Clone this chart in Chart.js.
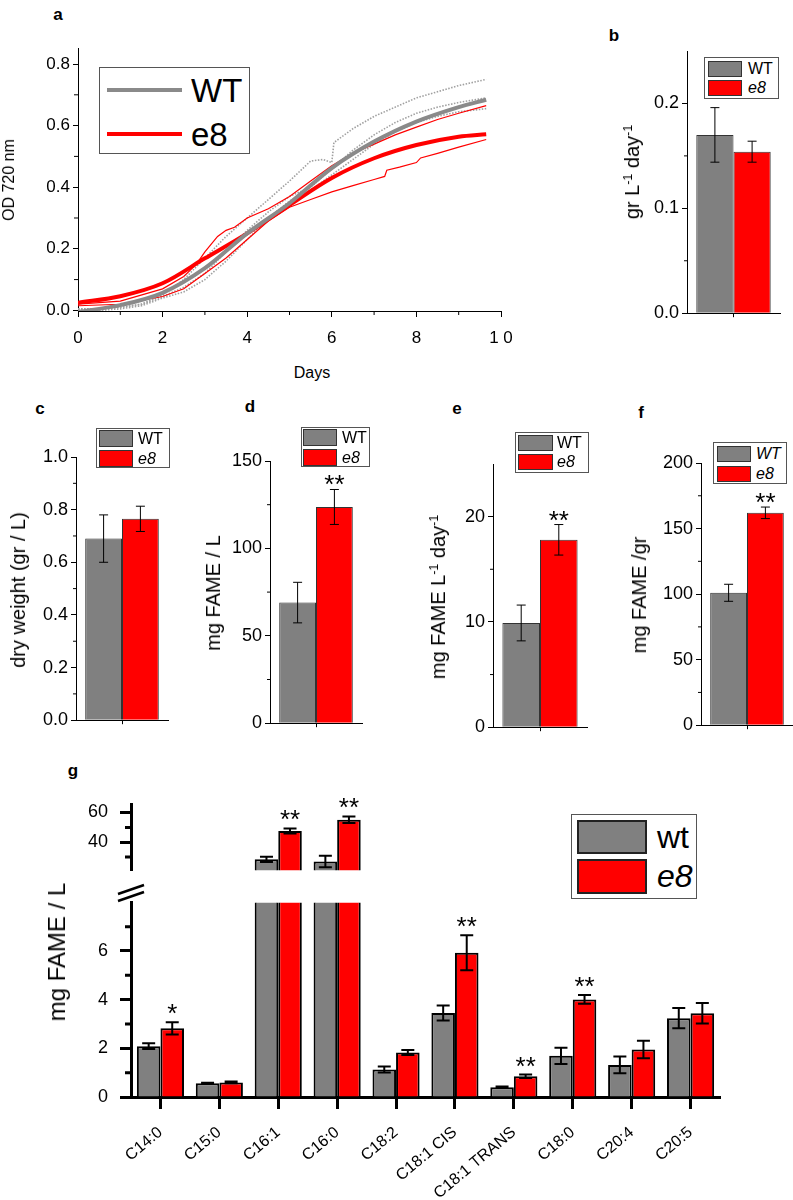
<!DOCTYPE html>
<html>
<head>
<meta charset="utf-8">
<script src="https://cdn.jsdelivr.net/npm/chart.js@4.4.1/dist/chart.umd.min.js"></script>
<style>
body { margin: 0; background: #fff; overflow: hidden; }
#page { position: relative; width: 793px; height: 1200px; font-family: 'Liberation Sans', Arial, sans-serif; color: #000; }
canvas { position: absolute; }
.t { position: absolute; white-space: nowrap; line-height: 1; }
.c { transform: translate(-50%, -50%); }
.r { transform: translate(-50%, -50%) rotate(-90deg); }
.p { font-weight: bold; font-size: 17px; }
.box { position: absolute; border: 1px solid #555; background: #fff; box-sizing: border-box; }
.sw { position: absolute; border: 1px solid #333; box-sizing: border-box; }
sup { font-size: 62%; vertical-align: 0.55em; line-height: 0; }
</style>
</head>
<body>
<div id="page">
  <div class="t c p" style="left:58px;top:14px">a</div>
  <div class="t c p" style="left:614px;top:35px">b</div>
  <div class="t c p" style="left:40px;top:408px">c</div>
  <div class="t c p" style="left:250px;top:406px">d</div>
  <div class="t c p" style="left:457px;top:408px">e</div>
  <div class="t c p" style="left:641px;top:412px">f</div>
  <div class="t c p" style="left:73px;top:770px">g</div>

  <div class="t r" style="left:9px;top:180px;font-size:16px">OD 720 nm</div>
  <div class="t c" style="left:312px;top:373px;font-size:16px">Days</div>
  <div class="t r" style="left:632px;top:172px;font-size:20px">gr L<sup>-1</sup> day<sup>-1</sup></div>
  <div class="t r" style="left:18px;top:590px;font-size:20px">dry weight (gr / L)</div>
  <div class="t r" style="left:213px;top:593px;font-size:20px">mg FAME / L</div>
  <div class="t r" style="left:438px;top:597px;font-size:20px">mg FAME L<sup>-1</sup> day<sup>-1</sup></div>
  <div class="t r" style="left:639px;top:595px;font-size:20px">mg FAME /gr</div>
  <div class="t r" style="left:57px;top:952px;font-size:24px">mg FAME / L</div>
</div>
<script>
// growth curves (panel a)
const fitDays = [0, 1, 2, 3, 4, 5, 6, 7, 8, 9, 9.65];
const wtFit = [-0.005, 0.017, 0.057, 0.137, 0.25, 0.348, 0.462, 0.548, 0.613, 0.66, 0.684];
const e8Fit = [0.025, 0.046, 0.088, 0.169, 0.25, 0.342, 0.43, 0.494, 0.537, 0.564, 0.572];

const wtRawDays1 = [0, 0.5, 1, 1.5, 2, 2.5, 3, 3.5, 4, 4.5, 5, 5.5, 5.8, 6, 6.05, 6.5, 7, 7.5, 8, 8.5, 9, 9.65];
const wtRaw1 = [0.005, 0.005, 0.01, 0.02, 0.05, 0.1, 0.17, 0.24, 0.3, 0.36, 0.42, 0.485, 0.49, 0.48, 0.545, 0.59, 0.63, 0.66, 0.69, 0.71, 0.73, 0.75];
const wtRawDays2 = [0, 0.5, 1, 1.5, 2, 2.5, 3, 3.5, 4, 4.5, 5, 5.5, 6, 6.5, 7, 7.5, 8, 8.5, 9, 9.65];
const wtRaw2 = [0, 0, 0.005, 0.015, 0.04, 0.06, 0.1, 0.16, 0.23, 0.3, 0.355, 0.39, 0.44, 0.49, 0.54, 0.58, 0.61, 0.63, 0.645, 0.655];
const wtRaw3 = [0.005, 0.005, 0.01, 0.02, 0.045, 0.075, 0.12, 0.19, 0.26, 0.32, 0.37, 0.4, 0.46, 0.52, 0.57, 0.61, 0.64, 0.66, 0.675, 0.69];

const e8RawDays1 = [0, 1, 2, 2.5, 2.8, 3, 3.3, 3.5, 3.7, 4, 4.5, 5, 5.5, 6, 6.5, 7, 7.5, 8, 8.5, 9, 9.65];
const e8Raw1 = [0.02, 0.03, 0.07, 0.11, 0.15, 0.19, 0.24, 0.26, 0.27, 0.3, 0.33, 0.37, 0.42, 0.47, 0.51, 0.54, 0.57, 0.595, 0.62, 0.64, 0.665];
const e8RawDays2 = [0, 1, 2, 2.5, 3, 3.5, 4, 4.5, 5, 5.5, 6, 6.5, 7, 7.25, 7.3, 7.6, 8, 8.1, 8.5, 9, 9.65];
const e8Raw2 = [0.015, 0.02, 0.045, 0.07, 0.12, 0.17, 0.23, 0.29, 0.335, 0.36, 0.385, 0.405, 0.425, 0.435, 0.455, 0.465, 0.48, 0.495, 0.51, 0.53, 0.555];

// panels b-f: [WT, e8]
const rate = [0.17, 0.154],    rateErr = [0.026, 0.01];
const dryWeight = [0.69, 0.765], dryErr = [0.09, 0.048];
const fameL = [69, 123.7],       fameLErr = [11.6, 10];
const fameDay = [9.9, 17.8],     fameDayErr = [1.7, 1.45];
const fameGr = [101, 162],       fameGrErr = [6.5, 4.4];
const noStars = ['', ''];
const twoStars = ['', '**'];

// panel g
const acids = ['C14:0', 'C15:0', 'C16:1', 'C16:0', 'C18:2', 'C18:1 CIS', 'C18:1 TRANS', 'C18:0', 'C20:4', 'C20:5'];
const wtAcid = [2.09, 0.57, 28.5, 27.1, 1.13, 3.45, 0.40, 1.69, 1.32, 3.24];
const wtAcidErr = [0.12, 0.02, 1.7, 3.9, 0.12, 0.31, 0.03, 0.33, 0.34, 0.42];
const e8Acid = [2.82, 0.60, 47.6, 55.2, 1.83, 5.93, 0.85, 4.01, 1.95, 3.44];
const e8AcidErr = [0.25, 0.04, 1.7, 2.2, 0.1, 0.72, 0.07, 0.18, 0.36, 0.42];
const e8AcidStars = ['*', '', '**', '**', '', '**', '**', '**', '', ''];

const GRAY = '#808080';
const RED = '#ff0000';
const FONT = "'Liberation Sans', Arial, sans-serif";
const page = document.getElementById('page');

// error bars + significance stars
const errorBars = {
    id: 'errorBars',
    afterDatasetsDraw(chart, args, opts) {
        const { ctx, chartArea: a } = chart;
        chart.data.datasets.forEach((ds, i) => {
            if (!ds.errors) return;
            const meta = chart.getDatasetMeta(i);
            const ys = chart.scales[meta.yAxisID];
            meta.data.forEach((bar, j) => {
                const v = ds.data[j], e = ds.errors[j];
                const hi = ys.getPixelForValue(v + e), lo = ys.getPixelForValue(v - e);
                ctx.save();
                ctx.beginPath();
                ctx.rect(a.left, a.top, a.right - a.left, a.bottom - a.top);
                ctx.clip();
                ctx.strokeStyle = '#000';
                ctx.lineWidth = opts.width;
                ctx.beginPath();
                ctx.moveTo(bar.x, hi); ctx.lineTo(bar.x, lo);
                ctx.moveTo(bar.x - opts.cap, hi); ctx.lineTo(bar.x + opts.cap, hi);
                ctx.moveTo(bar.x - opts.cap, lo); ctx.lineTo(bar.x + opts.cap, lo);
                ctx.stroke();
                ctx.restore();
                const s = ds.stars && ds.stars[j];
                if (s && hi >= a.top && hi <= a.bottom) {
                    ctx.save();
                    ctx.fillStyle = '#000';
                    ctx.font = opts.starFont;
                    ctx.textAlign = 'center';
                    ctx.textBaseline = 'alphabetic';
                    ctx.fillText(s, bar.x, hi + opts.starShift);
                    ctx.restore();
                }
            });
        });
    }
};

// small unlabeled ticks between the labelled ones
const minorTicks = {
    id: 'minorTicks',
    afterDraw(chart, args, opts) {
        if (!opts.y && !opts.x) return;
        const { ctx, chartArea: a } = chart;
        ctx.save();
        ctx.strokeStyle = '#000';
        ctx.lineWidth = opts.width || 1;
        ctx.beginPath();
        (opts.y || []).forEach(v => {
            const p = chart.scales.y.getPixelForValue(v);
            ctx.moveTo(a.left, p); ctx.lineTo(a.left - opts.len, p);
        });
        (opts.x || []).forEach(v => {
            const p = chart.scales.x.getPixelForValue(v);
            ctx.moveTo(p, a.bottom); ctx.lineTo(p, a.bottom + opts.len);
        });
        ctx.stroke();
        ctx.restore();
    }
};
Chart.register(errorBars, minorTicks);

// canvas placed so that its chart area lands on `area`
function build(id, area, pad, config) {
    const cv = document.createElement('canvas');
    cv.id = id;
    const w = area.r - area.l + pad.l + pad.r;
    const h = area.b - area.t + pad.t + pad.b;
    cv.width = w; cv.height = h;
    cv.style.left = (area.l - pad.l) + 'px';
    cv.style.top = (area.t - pad.t) + 'px';
    cv.style.width = w + 'px';
    cv.style.height = h + 'px';
    page.insertBefore(cv, page.firstChild);

    const o = config.options;
    o.responsive = false;
    o.animation = false;
    o.devicePixelRatio = 1;
    const xShown = o.scales.x.display !== false;
    o.layout = { padding: { left: 0, top: pad.t, right: pad.r, bottom: xShown ? 0 : pad.b } };
    o.scales.y.afterFit = s => { s.width = pad.l; };
    if (xShown) o.scales.x.afterFit = s => { s.height = pad.b; };
    o.plugins = Object.assign({ legend: { display: false }, tooltip: { enabled: false } }, o.plugins || {});
    return new Chart(cv, config);
}

function legend(box, rows, sw, textX, names, size, italic, lines) {
    const b = document.createElement('div');
    b.className = 'box';
    Object.assign(b.style, { left: box[0] + 'px', top: box[1] + 'px', width: (box[2] - box[0]) + 'px', height: (box[3] - box[1]) + 'px' });
    page.appendChild(b);
    const cols = [GRAY, RED];
    rows.forEach((r, i) => {
        const s = document.createElement('div');
        if (lines) {
            s.style.position = 'absolute';
            Object.assign(s.style, { left: sw[0] + 'px', top: (r - 2) + 'px', width: (sw[1] - sw[0]) + 'px', height: '4px', background: i ? RED : '#8a8a8a' });
        } else {
            s.className = 'sw';
            Object.assign(s.style, { left: sw[0] + 'px', top: r[0] + 'px', width: (sw[1] - sw[0]) + 'px', height: (r[1] - r[0]) + 'px', background: cols[i] });
            if (lines === false) s.style.border = '2px solid #222';
        }
        page.appendChild(s);
        const t = document.createElement('div');
        t.className = 't';
        t.textContent = names[i];
        const top = lines ? r - size / 2 : r[0];
        const hh = lines ? size : r[1] - r[0];
        Object.assign(t.style, { left: textX + 'px', top: top + 'px', height: hh + 'px', lineHeight: hh + 'px', fontSize: size + 'px', fontStyle: italic[i] ? 'italic' : 'normal' });
        page.appendChild(t);
    });
}

function axisX(extra) {
    return Object.assign({
        border: { color: '#000', width: 1 },
        grid: { drawOnChartArea: false, offset: false, tickLength: 4, tickColor: '#000' },
        ticks: { color: '#000', font: { family: FONT, size: 17 } }
    }, extra || {});
}
function axisY(min, max, step, fmt, size) {
    return {
        min: min, max: max,
        border: { color: '#000', width: 1 },
        grid: { drawOnChartArea: false, tickLength: 5, tickColor: '#000' },
        ticks: { stepSize: step, includeBounds: false, color: '#000', padding: 3, font: { family: FONT, size: size }, callback: fmt }
    };
}

// ---- panel a ----
const pts = (xs, ys) => xs.map((x, i) => ({ x: x, y: ys[i] }));
build('chartA', { l: 78, t: 48, r: 501, b: 311 }, { l: 78, t: 14, r: 30, b: 36 }, {
    type: 'line',
    data: {
        datasets: [
            { data: pts(fitDays, wtFit), borderColor: '#8a8a8a', borderWidth: 4, cubicInterpolationMode: 'monotone' },
            { data: pts(fitDays, e8Fit), borderColor: RED, borderWidth: 4, cubicInterpolationMode: 'monotone' },
            { data: pts(e8RawDays1, e8Raw1), borderColor: RED, borderWidth: 1.2 },
            { data: pts(e8RawDays2, e8Raw2), borderColor: RED, borderWidth: 1.2 },
            { data: pts(wtRawDays1, wtRaw1), borderColor: '#a0a0a0', borderWidth: 1.6, borderDash: [1.5, 1.5] },
            { data: pts(wtRawDays2, wtRaw2), borderColor: '#a0a0a0', borderWidth: 1.6, borderDash: [1.5, 1.5] },
            { data: pts(wtRawDays2, wtRaw3), borderColor: '#a0a0a0', borderWidth: 1.6, borderDash: [1.5, 1.5] }
        ]
    },
    options: {
        elements: { point: { radius: 0 } },
        scales: {
            x: axisX({
                type: 'linear', min: 0, max: 10,
                grid: { drawOnChartArea: false, tickLength: 6, tickColor: '#000' },
                ticks: { stepSize: 2, color: '#000', padding: 11, font: { family: FONT, size: 17 }, callback: v => v === 10 ? '1 0' : v }
            }),
            y: axisY(-0.002, 0.852, 0.2, v => v.toFixed(1), 17)
        },
        plugins: { minorTicks: { x: [1, 3, 5, 7, 9], y: [0.1, 0.3, 0.5, 0.7], len: 4 } }
    }
});
legend([99, 67, 250, 154], [90, 134], [107, 182], 191, ['WT', 'e8'], 33, [false, false], true);

// ---- panels b-f ----
function smallBars(id, area, vals, errs, stars, max, step, minor, fmt) {
    return build(id, area, { l: 60, t: 14, r: 8, b: 12 }, {
        type: 'bar',
        data: {
            labels: [''],
            datasets: [
                { data: [vals[0]], errors: [errs[0]], stars: [stars[0]], backgroundColor: GRAY, borderColor: '#333', borderWidth: 1 },
                { data: [vals[1]], errors: [errs[1]], stars: [stars[1]], backgroundColor: RED, borderColor: '#333', borderWidth: 1 }
            ]
        },
        options: {
            datasets: { bar: { barPercentage: 1, categoryPercentage: 0.8 } },
            scales: { x: axisX(), y: axisY(0, max, step, fmt, 18) },
            plugins: {
                errorBars: { width: 1, cap: 4.5, starFont: '26px ' + FONT, starShift: 4 },
                minorTicks: { y: minor, len: 3 }
            }
        }
    });
}
const f1 = v => v.toFixed(1);
const f0 = v => String(v);
smallBars('chartB', { l: 687, t: 51, r: 780, b: 315 }, rate, rateErr, noStars, 0.25, 0.1, [0.05, 0.15], f1);
smallBars('chartC', { l: 76, t: 457, r: 168, b: 722 }, dryWeight, dryErr, noStars, 1, 0.2, [0.1, 0.3, 0.5, 0.7, 0.9], f1);
smallBars('chartD', { l: 270, t: 461, r: 362, b: 725 }, fameL, fameLErr, twoStars, 150, 50, [25, 75, 125], f0);
smallBars('chartE', { l: 493, t: 464, r: 587, b: 729 }, fameDay, fameDayErr, twoStars, 25, 10, [5, 15], f0);
smallBars('chartF', { l: 701, t: 463, r: 793, b: 727 }, fameGr, fameGrErr, twoStars, 200, 50, [25, 75, 125, 175], f0);

legend([704, 57, 779, 99], [[61, 77], [80, 96]], [708, 742], 748, ['WT', 'e8'], 16, [false, true]);
legend([96, 428, 170, 468], [[430, 447], [450, 467]], [99, 133], 138, ['WT', 'e8'], 16, [false, true]);
legend([301, 427, 370, 467], [[429, 446], [449, 466]], [303, 337], 342, ['WT', 'e8'], 16, [false, true]);
legend([515, 432, 589, 473], [[435, 451], [454, 470]], [518, 553], 557, ['WT', 'e8'], 16, [false, true]);
legend([713, 442, 787, 484], [[446, 462], [466, 482]], [717, 751], 756, ['WT', 'e8'], 16, [true, true]);

// ---- panel g (broken axis: two stacked charts) ----
function acidChart(id, area, pad, yMin, yMax, minor, showX) {
    const x = showX ? axisX({
        border: { color: '#000', width: 3 },
        grid: { drawOnChartArea: false, offset: false, tickLength: 12, tickWidth: 3, tickColor: '#000' },
        ticks: { color: '#000', minRotation: 40, maxRotation: 40, padding: 14, font: { family: FONT, size: 16 } }
    }) : { display: false };
    const y = axisY(yMin, yMax, yMin > 10 ? 20 : 2, f0, 18);
    y.border.width = 3;
    y.grid.tickLength = 11;
    y.grid.tickWidth = 3;
    y.ticks.padding = 12;
    return build(id, area, pad, {
        type: 'bar',
        data: {
            labels: acids,
            datasets: [
                { data: wtAcid, errors: wtAcidErr, backgroundColor: GRAY, borderColor: '#000', borderWidth: 2, clip: 0 },
                { data: e8Acid, errors: e8AcidErr, stars: e8AcidStars, backgroundColor: RED, borderColor: '#000', borderWidth: 2, clip: 0 }
            ]
        },
        options: {
            datasets: { bar: { barPercentage: 1, categoryPercentage: 0.8 } },
            scales: { x: x, y: y },
            plugins: {
                errorBars: { width: 2, cap: 6.5, starFont: '26px ' + FONT, starShift: 0 },
                minorTicks: { y: minor, len: 6, width: 3 }
            }
        }
    });
}
acidChart('chartG', { l: 131, t: 895, r: 720, b: 1097 }, { l: 131, t: 15, r: 10, b: 100 }, 0, 7.98, [1, 3, 5, 7], true);
acidChart('chartG2', { l: 131, t: 804, r: 720, b: 889 }, { l: 131, t: 22, r: 10, b: 4 }, 21.2, 65.2, [30, 50], false);
legend([571, 814, 697, 899], [[820, 854], [859, 894]], [577, 647], 657, ['wt', 'e8'], 32, [false, true], false);
</script>
<svg style="position:absolute;left:112px;top:880px" width="40" height="26">
  <rect x="14" y="6" width="10" height="14" fill="#fff"/>
  <line x1="6" y1="14" x2="32" y2="5" stroke="#000" stroke-width="2.5"/>
  <line x1="6" y1="21" x2="32" y2="12" stroke="#000" stroke-width="2.5"/>
</svg>
</body>
</html>
